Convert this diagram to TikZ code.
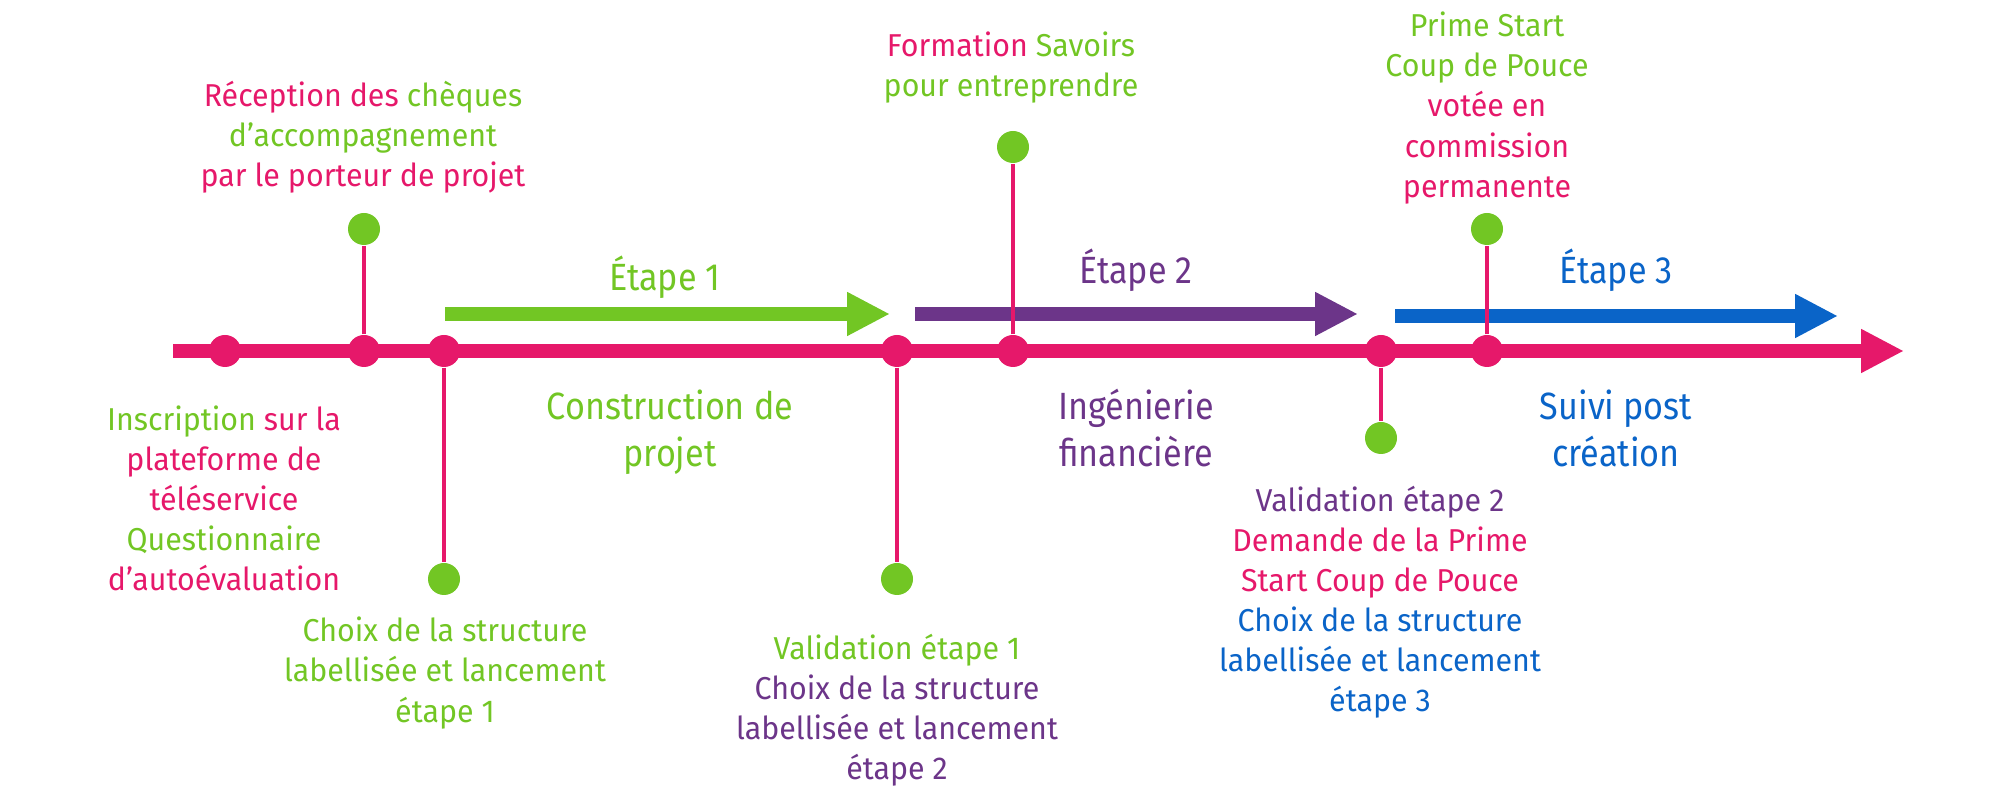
\documentclass[tikz,border=0pt]{standalone}
\usepackage{fontspec}
\setmainfont{Fira Sans}[FakeStretch=0.96]
\newfontfamily\titrefont{Fira Sans}[FakeStretch=0.9]
\usepackage{xcolor}
\usetikzlibrary{arrows.meta,
	positioning}
\definecolor{rosepink}{RGB}{230,24,106}
\definecolor{vertpomme}{RGB}{114,198,36}
\definecolor{violetfonce}{RGB}{108,53,137}
\definecolor{bleuroi}{RGB}{10,100,200}
\tikzset{
	jalon/.style={fill=rosepink, circle, inner sep=0pt, minimum size=0.32cm},
	bulle/.style={fill=vertpomme, circle, inner sep=0pt, minimum size=0.32cm},
	tige/.style={draw=rosepink, line width=0.045cm},
	fleche/.style={line width=0.14cm, -{Triangle[length=0.43cm, width=0.41cm]}},
	texte/.style={align=center, inner sep=0pt, font=\fontsize{9}{11.4}\selectfont},
	titre/.style={align=center, inner sep=0pt, font=\titrefont\fontsize{10.8}{13.4}\selectfont}
}

\begin{document}
\begin{tikzpicture}[scale=1, transform shape]
	\useasboundingbox (0,0) rectangle (20,8);
	% axe du temps
	\coordinate (debut) at (1.73,4.49);
	\coordinate (fin) at (19.04,4.49);
	\draw[fleche, rosepink] (debut) -- (fin);
	% fleches des etapes
	\coordinate (e1a) at (4.45,4.86);
	\coordinate (e1b) at (8.90,4.86);
	\coordinate (e2a) at (9.15,4.86);
	\coordinate (e2b) at (13.58,4.86);
	\coordinate (e3a) at (13.95,4.84);
	\coordinate (e3b) at (18.38,4.84);
	\draw[fleche, vertpomme] (e1a) -- (e1b);
	\draw[fleche, violetfonce] (e2a) -- (e2b);
	\draw[fleche, bleuroi] (e3a) -- (e3b);
	% jalons sur l'axe
	\node (j1) [jalon] at (2.25,4.49) {};
	\node (j2) [jalon] at (3.64,4.49) {};
	\node (j3) [jalon] at (4.44,4.49) {};
	\node (j4) [jalon] at (8.97,4.49) {};
	\node (j5) [jalon] at (10.13,4.49) {};
	\node (j6) [jalon] at (13.81,4.49) {};
	\node (j7) [jalon] at (14.87,4.49) {};
	% bulles vertes
	\node (b2) [bulle] at (3.64,5.71) {};
	\node (b3) [bulle] at (4.44,2.21) {};
	\node (b4) [bulle] at (8.97,2.21) {};
	\node (b5) [bulle] at (10.13,6.53) {};
	\node (b6) [bulle] at (13.81,3.62) {};
	\node (b7) [bulle] at (14.87,5.71) {};
	\draw[tige] (j2) -- (b2);
	\draw[tige] (j3) -- (b3);
	\draw[tige] (j4) -- (b4);
	\draw[tige] (j5) -- (b5);
	\draw[tige] (j6) -- (b6);
	\draw[tige] (j7) -- (b7);
	% titres des etapes
	\node (t1) [titre, vertpomme] at (6.65,5.23) {Étape 1};
	\node (t2) [titre, violetfonce] at (11.36,5.30) {Étape 2};
	\node (t3) [titre, bleuroi] at (16.16,5.30) {Étape 3};
	\node (p1) [titre, vertpomme] at (6.70,3.68) {Construction de\\projet};
	\node (p2) [titre, violetfonce] at (11.36,3.72) {Ingénierie\\financière};
	\node (p3) [titre, bleuroi] at (16.16,3.72) {Suivi post\\création};
	% textes des jalons
	\node (l1) [texte] at (2.24,3.02) {\textcolor{vertpomme}{Inscription} \textcolor{rosepink}{sur la}\\
		\textcolor{rosepink}{plateforme de}\\
		\textcolor{rosepink}{téléservice}\\
		\textcolor{vertpomme}{Questionnaire}\\
		\textcolor{rosepink}{d’autoévaluation}};
	\node (l2) [texte] at (3.63,6.63) {\textcolor{rosepink}{Réception des} \textcolor{vertpomme}{chèques}\\
		\textcolor{vertpomme}{d’accompagnement}\\
		\textcolor{rosepink}{par le porteur de projet}};
	\node (l3) [texte, vertpomme] at (4.45,1.27) {Choix de la structure\\labellisée et lancement\\étape 1};
	\node (l4) [texte] at (8.97,0.90) {\textcolor{vertpomme}{Validation étape 1}\\
		\textcolor{violetfonce}{Choix de la structure}\\
		\textcolor{violetfonce}{labellisée et lancement}\\
		\textcolor{violetfonce}{étape 2}};
	\node (l5) [texte] at (10.11,7.32) {\textcolor{rosepink}{Formation} \textcolor{vertpomme}{Savoirs}\\
		\textcolor{vertpomme}{pour entreprendre}};
	\node (l6) [texte] at (13.80,1.98) {\textcolor{violetfonce}{Validation étape 2}\\
		\textcolor{rosepink}{Demande de la Prime}\\
		\textcolor{rosepink}{Start Coup de Pouce}\\
		\textcolor{bleuroi}{Choix de la structure}\\
		\textcolor{bleuroi}{labellisée et lancement}\\
		\textcolor{bleuroi}{étape 3}};
	\node (l7) [texte] at (14.87,6.92) {\textcolor{vertpomme}{Prime Start}\\
		\textcolor{vertpomme}{Coup de Pouce}\\
		\textcolor{rosepink}{votée en}\\
		\textcolor{rosepink}{commission}\\
		\textcolor{rosepink}{permanente}};
\end{tikzpicture}
\end{document}
